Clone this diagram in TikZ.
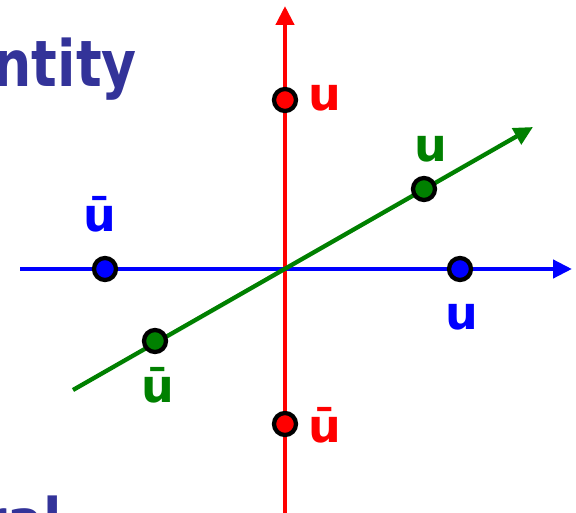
\documentclass[tikz,border=0pt]{standalone}
\usepackage{fontspec}
\usepackage{graphicx}
\setmainfont{DejaVu Sans}
\usetikzlibrary{arrows.meta}
\definecolor{titleblue}{HTML}{333399}
\definecolor{myred}{HTML}{FF0000}
\definecolor{myblue}{HTML}{0000FF}
\definecolor{mygreen}{HTML}{008000}
\newcommand{\ttltext}[1]{\scalebox{0.84}[1]{\fontsize{64}{70}\selectfont\bfseries #1}}
\tikzset{
  axis/.style={line width=4.3pt,-{Triangle[length=19pt,width=18pt]}},
  dot/.style={circle,draw=black,line width=4.3pt,minimum size=22pt,inner sep=0pt},
  lbl/.style={font=\fontsize{46}{50}\selectfont\bfseries,inner sep=0pt,anchor=base},
  ttl/.style={text=titleblue,inner sep=0pt,anchor=base east}
}
\begin{document}
\begin{tikzpicture}[x=1pt,y=-1pt]
\useasboundingbox (0,0) rectangle (576,513);
\node[ttl] (t1) at (137,87) {\ttltext{ntity}};
\node[ttl] (t2) at (62,544) {\ttltext{ral}};
% axes
\coordinate (rb) at (285,513);
\coordinate (rt) at (285,6);
\coordinate (bl) at (20,269);
\coordinate (br) at (572,269);
\coordinate (gl) at (73,390);
\coordinate (gr) at (533,127);
\draw[axis,myred] (rb) -- (rt);
\draw[axis,myblue] (bl) -- (br);
\draw[axis,mygreen] (gl) -- (gr);
% dots
\node[dot,fill=myred] (r1) at (285,100) {};
\node[dot,fill=myred] (r2) at (285,424) {};
\node[dot,fill=myblue] (b1) at (105,269) {};
\node[dot,fill=myblue] (b2) at (460,269) {};
\node[dot,fill=mygreen] (g1) at (424,189) {};
\node[dot,fill=mygreen] (g2) at (155,341) {};
% labels
\node[lbl,text=myred] (lr1) at (325,111) {u};
\node[lbl,text=myred] (lr2) at (325,442) {ū};
\node[lbl,text=myblue] (lb1) at (99.5,232) {ū};
\node[lbl,text=myblue] (lb2) at (462,330) {u};
\node[lbl,text=mygreen] (lg1) at (431,162) {u};
\node[lbl,text=mygreen] (lg2) at (157.5,402) {ū};
\end{tikzpicture}
\end{document}
